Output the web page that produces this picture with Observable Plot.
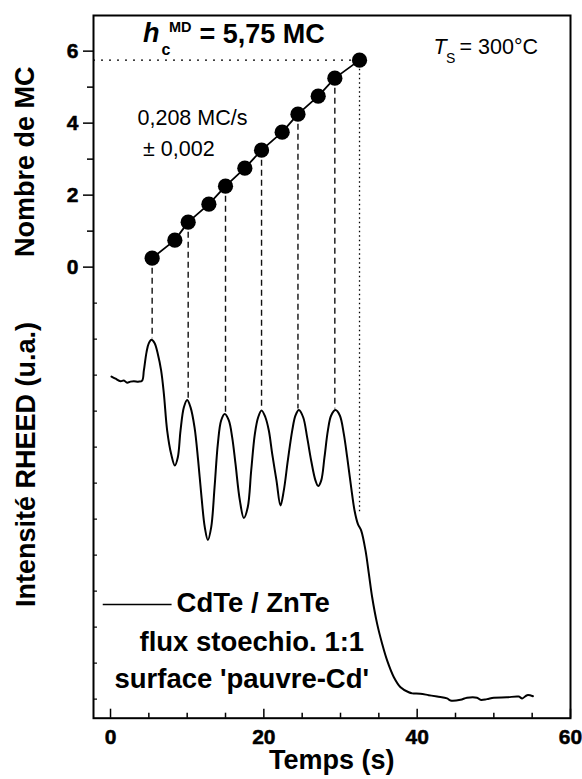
<!DOCTYPE html>
<html><head><meta charset="utf-8">
<script src="https://cdn.jsdelivr.net/npm/d3@7"></script>
<script src="https://cdn.jsdelivr.net/npm/@observablehq/plot@0.6"></script>
<style>body{margin:0;background:#fff} svg{display:block}</style>
</head><body><div id="chart"></div>
<script>
// RHEED intensity trace (time in s, intensity in arbitrary units)
const time = [0.13,0.65,1.3,1.74,2.17,2.6,3.04,3.7,4.13,4.35,4.7,5.0,5.35,5.74,6.17,6.6,6.96,7.39,7.91,8.39,8.78,9.13,9.57,10.0,10.43,10.96,11.43,11.87,12.3,12.7,13.13,13.57,14.0,14.43,14.9,15.43,15.87,16.3,16.87,17.39,17.9,18.35,18.83,19.26,19.7,20.2,20.65,21.09,21.65,22.17,22.6,23.13,23.7,24.13,24.57,25.13,25.65,26.17,26.74,27.09,27.48,27.91,28.35,28.78,29.35,29.91,30.43,30.87,31.39,31.83,32.26,32.7,33.26,33.7,34.13,34.78,35.43,36.09,36.96,37.83,38.9,39.35,40.4,41.5,42.6,43.9,44.35,45.65,46.5,47.8,48.26,49.1,50.0,51.7,53.26,53.7,54.35,55.1];
const intensity = [9.0,8.94,8.87,8.89,8.83,8.86,8.87,8.86,8.89,9.17,9.68,9.93,10.02,9.93,9.63,9.17,8.52,7.5,6.85,6.53,6.76,7.5,8.15,8.35,8.15,7.59,6.67,5.65,4.81,4.46,4.81,5.92,7.13,7.78,7.96,7.78,7.31,6.58,5.56,5.07,5.37,6.39,7.41,7.87,8.06,7.87,7.5,6.85,6.11,5.42,5.83,6.67,7.5,7.92,8.07,7.87,7.31,6.67,6.11,5.96,6.11,6.76,7.5,7.92,8.07,7.92,7.41,6.76,5.92,5.28,4.91,4.72,4.17,3.52,2.87,2.13,1.58,1.11,0.65,0.37,0.23,0.2,0.19,0.15,0.11,0.06,0.0,0.02,0.08,0.08,0.02,0.04,0.08,0.09,0.11,0.06,0.15,0.12];

// Number of monolayers (MC) vs time
const dotTime = [5.43,8.39,10.13,12.83,15.0,17.52,19.7,22.39,24.45,27.09,29.26,32.48];
const dotMC = [0.25,0.75,1.25,1.75,2.25,2.75,3.25,3.75,4.25,4.75,5.25,5.75];

// dashed guides: dot index -> RHEED peak intensity
const peakDotIndex = [0,2,4,6,8,10];
const peakIntensity = [10.05,8.38,7.99,8.09,8.1,8.1];
// critical thickness marker
const hcIndex = 11;
const hcIntensity = 5.19;

const xTicks = [0,20,40,60];
const xMinorTicks = [5,10,15,25,30,35,45,50,55];
const yTicks = [0,2,4,6];
const yMinorTicks = [1,3,5];
const yLowerTicks = [-12,-11,-10,-9,-8,-7,-6,-5,-4,-3,-2,-1];

// ---- layout ----
const RHEED_ZERO = -12.04; // where zero RHEED intensity sits on the shared vertical scale
const toY = I => I + RHEED_ZERO;
const xDomain = [-2.22, 60];
const yDomain = [-12.53, 6.99];

const rheed = time.map((t, i) => ({t, I: intensity[i]}));
const dots = dotTime.map((t, i) => ({t, mc: dotMC[i]}));
const peaks = peakDotIndex.map((k, i) => ({t: dotTime[k], mc: dotMC[k], I: peakIntensity[i]}));
const hc = [{t: dotTime[hcIndex], mc: dotMC[hcIndex], I: hcIntensity}];

const font = "'Liberation Sans', Arial, Helvetica, sans-serif";
const label = (text, x, y, opts = {}) => Plot.text([text], {
  x: () => x, y: () => y, text: d => d, textAnchor: "start", lineAnchor: "bottom",
  fill: "#000", fontFamily: font, fontWeight: "normal", ...opts
});
const noText = () => "";

const chart = Plot.plot({
  width: 582, height: 779,
  marginLeft: 93, marginRight: 12, marginTop: 15, marginBottom: 61.3,
  style: {fontFamily: font, color: "#000", background: "#fff", overflow: "visible"},
  x: {domain: xDomain, axis: null},
  y: {domain: yDomain, axis: null},
  marks: [
    // guides
    Plot.ruleY(hc, {y: "mc", x1: () => xDomain[0], x2: "t", stroke: "#000", strokeWidth: 1.3, strokeDasharray: "2,6"}),
    Plot.ruleX(hc, {x: "t", y1: "mc", y2: d => toY(d.I), stroke: "#000", strokeWidth: 1.3, strokeDasharray: "1.5,3"}),
    Plot.ruleX(peaks, {x: "t", y1: "mc", y2: d => toY(d.I), stroke: "#111", strokeWidth: 1.4, strokeDasharray: "6,4"}),
    // data
    Plot.line(rheed, {x: "t", y: d => toY(d.I), stroke: "#000", strokeWidth: 2, curve: "catmull-rom"}),
    Plot.line(dots, {x: "t", y: "mc", stroke: "#000", strokeWidth: 1.8}),
    Plot.dot(dots, {x: "t", y: "mc", r: 7.6, fill: "#000", stroke: null}),
    Plot.frame({stroke: "#000", strokeWidth: 2}),
    // axis ticks
    Plot.axisX(xTicks, {tickSize: 9, dy: -9, tickFormat: noText, strokeWidth: 1.5, label: null}),
    Plot.axisX(xMinorTicks, {tickSize: 5, dy: -5, tickFormat: noText, strokeWidth: 1.5, label: null}),
    Plot.axisY(yTicks, {tickSize: 10, tickFormat: noText, strokeWidth: 1.5, label: null}),
    Plot.axisY(yMinorTicks, {tickSize: 6, tickFormat: noText, strokeWidth: 1.5, label: null}),
    Plot.axisY(yLowerTicks, {tickSize: 4, dx: 4, tickFormat: noText, strokeWidth: 1.2, label: null}),
    // tick labels (bold)
    Plot.text(xTicks, {x: d => d, y: () => yDomain[0], text: d => String(d), textAnchor: "middle", lineAnchor: "bottom", dy: 26,
      fontSize: 21, fontWeight: "bold", fontFamily: font, fill: "#000", stroke: "#000", strokeWidth: 0.5}),
    Plot.text(yTicks, {x: () => xDomain[0], y: d => d, text: d => String(d), textAnchor: "end", lineAnchor: "bottom", dx: -15, dy: 7,
      fontSize: 21, fontWeight: "bold", fontFamily: font, fill: "#000", stroke: "#000", strokeWidth: 0.5}),
    // axis titles
    label("Temps (s)", 28.87, -13.93, {textAnchor: "middle", fontSize: 27, fontWeight: "bold"}),
    label("Nombre de MC", -9.95, 2.93, {textAnchor: "middle", rotate: -90, fontSize: 27, fontWeight: "bold"}),
    label("Intensité RHEED (u.a.)", -9.9, -5.48, {textAnchor: "middle", rotate: -90, fontSize: 27, fontWeight: "bold"}),
    // annotations
    label("h", 4.25, 6.24, {fontSize: 27, fontWeight: "bold", fontStyle: "italic"}),
    label("c", 6.65, 5.88, {fontSize: 16, fontWeight: "bold"}),
    label("MD", 7.63, 6.53, {fontSize: 14.5, fontWeight: "bold"}),
    label("= 5,75 MC", 11.6, 6.23, {fontSize: 27, fontWeight: "bold"}),
    label("T", 42.13, 5.92, {fontSize: 21.5, fontStyle: "italic"}),
    label("S", 43.76, 5.66, {fontSize: 14}),
    label("= 300°C", 45.52, 5.92, {fontSize: 21.5}),
    label("0,208 MC/s", 3.52, 3.94, {fontSize: 21.5}),
    label("± 0,002", 4.24, 3.09, {fontSize: 21.5}),
    // legend
    Plot.ruleY([0], {y: () => -9.37, x1: () => -0.95, x2: () => 8.03, stroke: "#000", strokeWidth: 1.6}),
    label("CdTe / ZnTe", 8.61, -9.59, {fontSize: 27.5, fontWeight: "bold"}),
    label("flux stoechio. 1:1", 3.78, -10.65, {fontSize: 27.5, fontWeight: "bold"}),
    label("surface 'pauvre-Cd'", 0.52, -11.69, {fontSize: 27.5, fontWeight: "bold"})
  ]
});
document.getElementById("chart").appendChild(chart);
</script>
</body></html>
